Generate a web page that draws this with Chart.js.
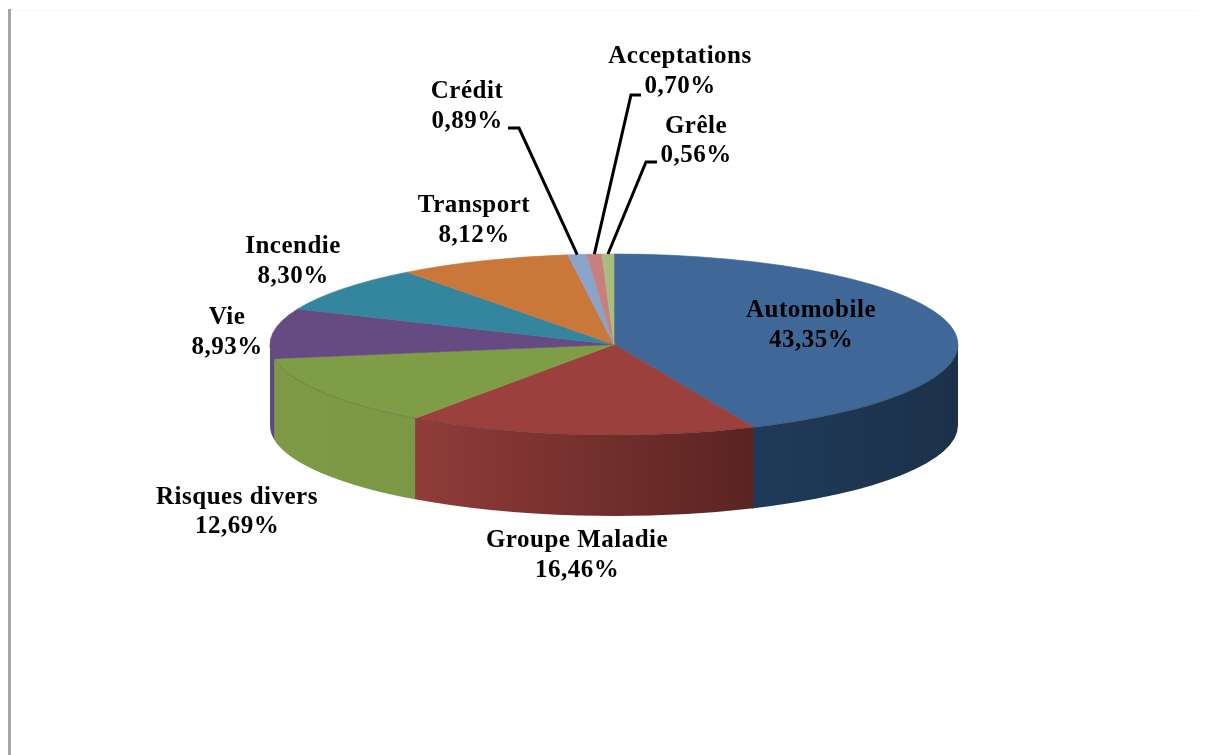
<!DOCTYPE html>
<html>
<head>
<meta charset="utf-8">
<title>Répartition des primes</title>
<script src="https://cdn.jsdelivr.net/npm/chart.js@4"></script>
<style>
    html, body { margin: 0; padding: 0; background: #fff; }
    #sideBar { position: absolute; left: 8px; top: 9px; bottom: 0; width: 3px; background: #a6a6a6; }
    #topRule { position: absolute; left: 11px; right: 8px; top: 10px; height: 1px; background: #f8f8f8; }
    #pieChart { display: block; }
</style>
</head>
<body>
<canvas id="pieChart" width="1205" height="755"></canvas>
<div id="sideBar"></div>
<div id="topRule"></div>
<script>
const categories = ["Automobile", "Groupe Maladie", "Risques divers", "Vie", "Incendie", "Transport", "Crédit", "Acceptations", "Grêle"];
const shares = [43.35, 16.46, 12.69, 8.93, 8.30, 8.12, 0.89, 0.70, 0.56];

const topColors = ["#3f6797", "#9c403d", "#7f9c47", "#664b82", "#34859e", "#c9783a", "#8aa3c8", "#c87f7d", "#a9bd7d"];
// left and right colour of the side wall
const wallLeft = ["#1f3a59", "#903c3a", "#7f9a46", "#5f4a80", "#2a6a7e", "#a0602e", "#6e82a0", "#a06564", "#87975f"];
const wallRight = ["#1c3149", "#5a2421", "#7c9844", "#5f4a80", "#2a6a7e", "#a0602e", "#6e82a0", "#a06564", "#87975f"];

// label layout: centre x, baseline of the first line
const labelX = [811, 577, 237, 227, 293, 474, 467, 680, 696];
const labelY = [317, 547, 504, 324, 253, 212, 98, 63, 133];
const labelGap = [30, 30, 29, 30, 30, 30, 30, 30, 29];

// leader lines: slice index, start x, elbow x, y of the horizontal part
const leaderSlices = [6, 7, 8];
const leaderStartX = [508, 641, 657];
const leaderElbowX = [519, 631, 646];
const leaderY = [128, 95, 162];

const squash = 90.5 / 344;
const wallDepth = 81;

const pie3d = {
    id: "pie3d",
    beforeDatasetsDraw(chart) {
        const ctx = chart.ctx;
        const arcs = chart.getDatasetMeta(0).data;
        const cx = arcs[0].x, cy = arcs[0].y, rx = arcs[0].outerRadius, ry = rx * squash;

        //side wall, only the part of each slice facing us
        arcs.forEach((arc, i) => {
            const from = Math.max(arc.startAngle, 0);
            const to = Math.min(arc.endAngle, Math.PI);
            if (from >= to) return;
            const x0 = cx + rx * Math.cos(to);
            const x1 = cx + rx * Math.cos(from);
            const grad = ctx.createLinearGradient(x0, 0, x1, 0);
            grad.addColorStop(0, wallLeft[i]);
            grad.addColorStop(1, wallRight[i]);
            //small overlap so no light seam shows, the next slice paints over it
            const end = Math.min(to + 0.005, Math.PI);
            ctx.beginPath();
            ctx.ellipse(cx, cy, rx, ry, 0, from, end);
            ctx.ellipse(cx, cy + wallDepth, rx, ry, 0, end, from, true);
            ctx.closePath();
            ctx.fillStyle = grad;
            ctx.fill();
        });

        ctx.save();
        ctx.translate(cx, cy);
        ctx.scale(1, squash);
        ctx.translate(-cx, -cy);
    },
    afterDatasetsDraw(chart) {
        const ctx = chart.ctx;
        ctx.restore();

        const arcs = chart.getDatasetMeta(0).data;
        const cx = arcs[0].x, cy = arcs[0].y, rx = arcs[0].outerRadius, ry = rx * squash;

        //thin dark line on the front rim
        ctx.beginPath();
        ctx.ellipse(cx, cy, rx, ry, 0, 0, Math.PI);
        ctx.strokeStyle = "rgba(40,40,30,0.25)";
        ctx.lineWidth = 1;
        ctx.stroke();

        //leaders go from the elbow to the top of the slice
        ctx.strokeStyle = "#000";
        ctx.lineWidth = 3;
        ctx.lineJoin = "miter";
        leaderSlices.forEach((slice, i) => {
            const arc = arcs[slice];
            const mid = (arc.startAngle + arc.endAngle) / 2;
            ctx.beginPath();
            ctx.moveTo(leaderStartX[i], leaderY[i]);
            ctx.lineTo(leaderElbowX[i], leaderY[i]);
            ctx.lineTo(cx + rx * Math.cos(mid), cy + ry * Math.sin(mid));
            ctx.stroke();
        });

        ctx.font = 'bold 25px "Liberation Serif"';
        ctx.letterSpacing = "0.5px";
        ctx.textAlign = "center";
        ctx.textBaseline = "alphabetic";
        ctx.fillStyle = "#000";
        categories.forEach((name, i) => {
            const pct = shares[i].toFixed(2).replace(".", ",") + "%";
            ctx.fillText(name, labelX[i], labelY[i]);
            ctx.fillText(pct, labelX[i], labelY[i] + labelGap[i]);
        });
    }
};

new Chart(document.getElementById("pieChart"), {
    type: "pie",
    data: {
        labels: categories,
        datasets: [{
            data: shares,
            backgroundColor: topColors,
            borderColor: topColors,
            borderWidth: 1
        }]
    },
    options: {
        responsive: false,
        animation: false,
        radius: 344,
        layout: { padding: { left: 23, bottom: 66 } },
        plugins: {
            legend: { display: false },
            tooltip: { enabled: false }
        }
    },
    plugins: [pie3d]
});
</script>
</body>
</html>
